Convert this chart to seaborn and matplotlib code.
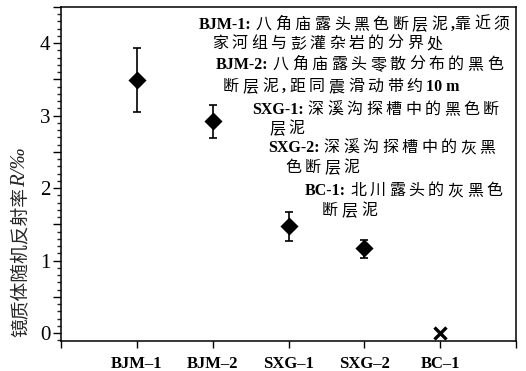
import matplotlib
matplotlib.use("Agg")
import matplotlib.pyplot as plt
from matplotlib.font_manager import FontProperties
from matplotlib.ticker import MultipleLocator, FuncFormatter, FixedLocator
import seaborn as sns
import numpy as np

sns.set_theme(style="ticks")
plt.rcParams["font.family"] = ["Liberation Serif", "Noto Sans CJK SC"]

# data
samples = ["BJM–1", "BJM–2", "SXG–1", "SXG–2", "BC–1"]
ro_mean = [3.49, 2.92, 1.48, 1.17]          # BJM-1 .. SXG-2
ro_low = [3.05, 2.69, 1.27, 1.03]
ro_high = [3.94, 3.15, 1.67, 1.29]
bc_value = [0.0]                             # BC-1, no reflectance

note_ids = ["BJM-1:", "BJM-2:", "SXG-1:", "SXG-2:", "BC-1:"]
note_line1 = ["八角庙露头黑色断层泥,靠近须", "八角庙露头零散分布的黑色",
              "深溪沟探槽中的黑色断", "深溪沟探槽中的灰黑", "北川露头的灰黑色"]
note_line2 = ["家河组与彭灌杂岩的分界处", "断层泥, 距同震滑动带约10 m",
              "层泥", "色断层泥", "断层泥"]

W, H = 526, 371
fig = plt.figure(figsize=(W / 100, H / 100), dpi=100)
ax = fig.add_axes([61 / W, 1 - 341 / H, 455 / W, 334 / H])

xpos = np.arange(1, len(ro_mean) + 1)
yerr = [np.array(ro_mean) - np.array(ro_low), np.array(ro_high) - np.array(ro_mean)]
ax.errorbar(xpos, ro_mean, yerr=yerr, fmt="none", ecolor="black",
            elinewidth=1.2, capsize=3, capthick=1.2, zorder=2)
sns.scatterplot(x=xpos, y=ro_mean, marker="D", s=85, color="black",
                edgecolor="black", linewidth=0, ax=ax, zorder=3)
ax.plot([len(samples)], bc_value, marker="x", ms=9, mew=2.4, color="black",
        ls="none", clip_on=False, zorder=3)

ax.set_xlim(0, 6)
ax.set_ylim(-0.11, 4.5)
ax.xaxis.set_major_locator(FixedLocator(range(0, 7)))
ax.xaxis.set_major_formatter(FuncFormatter(
    lambda v, p: samples[int(round(v)) - 1] if 1 <= round(v) <= len(samples) else ""))
ax.yaxis.set_major_locator(MultipleLocator(0.5))
ax.yaxis.set_minor_locator(MultipleLocator(0.1))
ax.yaxis.set_major_formatter(FuncFormatter(
    lambda v, p: f"{int(round(v))}" if abs(v - round(v)) < 1e-6 else ""))

ax.tick_params(axis="x", direction="out", length=5, width=1, pad=6,
               labelsize=12, colors="black")
ax.tick_params(axis="y", which="major", direction="out", length=5.5, width=1,
               pad=2, labelsize=15, colors="black")
ax.tick_params(axis="y", which="minor", direction="out", length=3, width=1)
for lab in ax.get_xticklabels():
    lab.set_fontweight("bold")
for sp in ax.spines.values():
    sp.set_visible(True)
    sp.set_linewidth(1.1)
    sp.set_color("black")
ax.set_xlabel("")
ax.set_ylabel("")

# y label: Chinese part plus italic R/‰ stacked above it
ylab = fig.text(21 / W, 1 - 337 / H, "镜质体随机反射率", rotation=90,
                ha="center", va="bottom", fontsize=13.5,
                family=["Noto Sans CJK SC"], weight="medium")
ax.annotate("R/‰", xy=(0.5, 1), xycoords=ylab, rotation=90, ha="center",
            va="bottom", fontsize=15, style="italic",
            family=["Liberation Serif", "DejaVu Serif"], annotation_clip=False)

# notes: latin pieces as whole strings, Chinese chars spaced out one by one
renderer = fig.canvas.get_renderer()
latin_fp = FontProperties(family="Liberation Serif", weight="bold", size=11.5)
cjk_fp = FontProperties(family="Noto Sans CJK SC", size=11.5, weight="medium")


def put(x, base, s, fp):
    t = fig.text(x / W, 1 - base / H, s, fontproperties=fp,
                 ha="left", va="baseline", color="black")
    return t.get_window_extent(renderer).width


def draw_run(x, y, text):
    base = y + 6
    buf = ""
    for ch in text + "\0":
        if ch != "\0" and ord(ch) < 0x2000:
            buf += ch
            continue
        if buf:
            if buf.strip():
                lead = len(buf) - len(buf.lstrip())
                x += 4 * lead
                x += put(x, base, buf.strip(), latin_fp)
                x += 4 * (len(buf) - len(buf.rstrip()))
            else:
                x += 4 * len(buf)
            buf = ""
        if ch == "\0":
            break
        x += put(x, base, ch, cjk_fp) + 3.5
    return x


line1_x = [199, 216, 252, 268, 305]
line1_y = [23, 63, 108, 146, 189]
line2_x = [212, 223, 269, 285, 322]
line2_y = [42, 85, 127, 166, 209]
for i in range(len(note_ids)):
    x = draw_run(line1_x[i], line1_y[i], note_ids[i])
    draw_run(x + 4, line1_y[i], note_line1[i])
    draw_run(line2_x[i], line2_y[i], note_line2[i])

fig.savefig("out.png", dpi=100, facecolor="white")
